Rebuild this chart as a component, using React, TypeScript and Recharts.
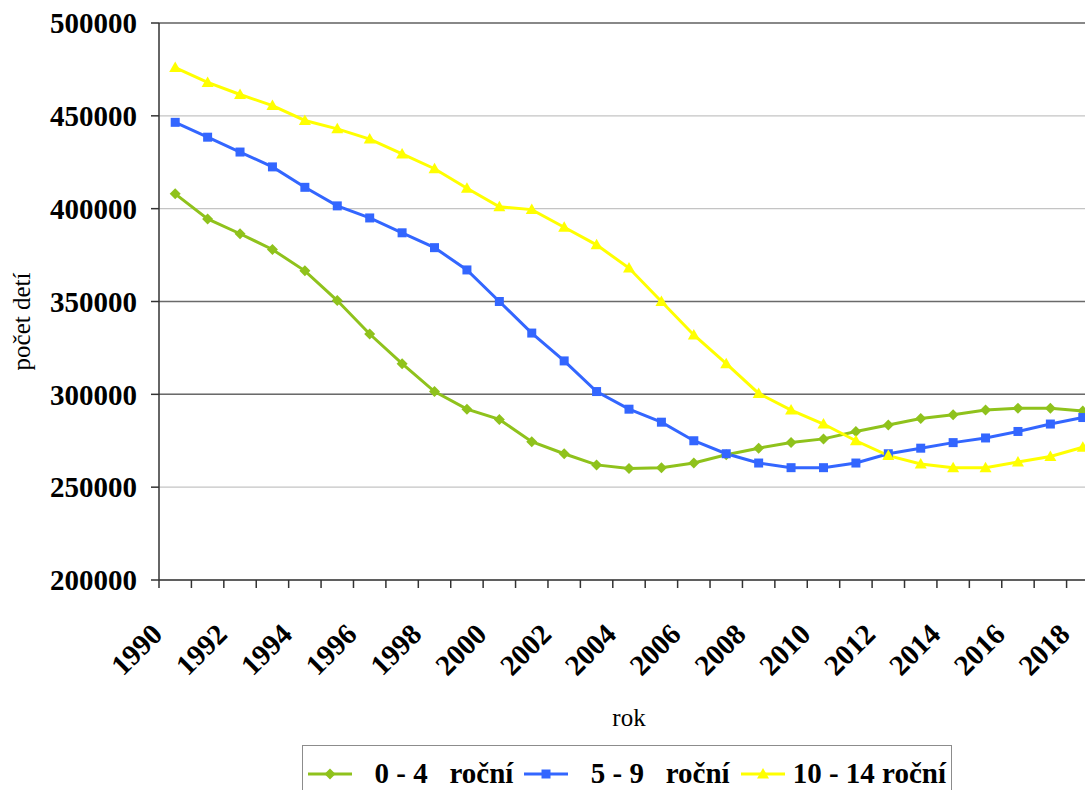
import { CartesianGrid, Legend, Line, LineChart, ReferenceLine, XAxis, YAxis } from "recharts";

const years = [
  1990, 1991, 1992, 1993, 1994, 1995, 1996, 1997, 1998, 1999, 2000, 2001, 2002, 2003, 2004,
  2005, 2006, 2007, 2008, 2009, 2010, 2011, 2012, 2013, 2014, 2015, 2016, 2017, 2018,
];
const age0to4 = [
  408000, 394500, 386500, 378000, 366500, 350500, 332500, 316500, 301500, 292000, 286500,
  274500, 268000, 262000, 260000, 260500, 263000, 267500, 271000, 274000, 276000, 280000,
  283500, 287000, 289000, 291500, 292500, 292500, 291000,
];
const age5to9 = [
  446500, 438500, 430500, 422500, 411500, 401500, 395000, 387000, 379000, 367000, 350000,
  333000, 318000, 301500, 292000, 285000, 275000, 268000, 263000, 260500, 260500, 263000,
  268000, 271000, 274000, 276500, 280000, 284000, 287500,
];
const age10to14 = [
  476000, 468000, 461500, 455500, 447500, 443000, 437500, 429500, 421500, 411000, 401000,
  399500, 390000, 380500, 368000, 350000, 332000, 316500, 300500, 291500, 284000, 275000,
  267000, 262500, 260500, 260500, 263500, 266500, 271500,
];
const xTickLabels = [
  "1990", "1992", "1994", "1996", "1998", "2000", "2002", "2004", "2006", "2008", "2010",
  "2012", "2014", "2016", "2018",
];
const yTicks = [200000, 250000, 300000, 350000, 400000, 450000, 500000];
const darkGridLines = [500000, 350000, 300000];

const series = [
  { key: "a", name: "  0 - 4   roční", color: "#8fc21c", shape: "diamond" },
  { key: "b", name: "  5 - 9   roční", color: "#3366ff", shape: "square" },
  { key: "c", name: "10 - 14 roční", color: "#ffff00", shape: "triangle" },
];

const data = years.map((year, i) => ({
  year,
  a: age0to4[i],
  b: age5to9[i],
  c: age10to14[i],
}));

// ticks sit on the band edges, like the category axis of the original
const xTicks = [...years.map((y) => y - 0.5), years[years.length - 1] + 0.5];

const FONT = "Liberation Serif, Times New Roman, serif";

function markerPath(shape: string, cx: number, cy: number) {
  if (shape === "square") {
    const s = 4.5;
    return `M${cx - s},${cy - s}h${2 * s}v${2 * s}h${-2 * s}Z`;
  }
  if (shape === "diamond") {
    const s = 5.5;
    return `M${cx},${cy - s}L${cx + s},${cy}L${cx},${cy + s}L${cx - s},${cy}Z`;
  }
  const s = 6;
  return `M${cx},${cy - s}L${cx + s},${cy + s * 0.75}L${cx - s},${cy + s * 0.75}Z`;
}

function makeDot(shape: string, color: string) {
  return (props: any) => {
    const { cx, cy, index } = props;
    if (cx == null || cy == null) return <g key={index} />;
    return <path key={index} d={markerPath(shape, cx, cy)} fill={color} stroke="none" />;
  };
}

function XTick(props: any) {
  const { x, y, payload } = props;
  const label = String(payload.value + 0.5);
  if (!xTickLabels.includes(label)) return <g />;
  return (
    <g transform={`translate(${x + 5},${y + 48})`}>
      <text
        textAnchor="end"
        transform="rotate(-45)"
        style={{ fontFamily: FONT, fontWeight: "bold", fontSize: 29 }}
        fill="#000"
      >
        {label}
      </text>
    </g>
  );
}

function LegendBox() {
  return (
    <div
      style={{
        border: "1px solid #8c8c8c",
        height: 74,
        boxSizing: "border-box",
        padding: "13px 0 0 5px",
        display: "flex",
        alignItems: "flex-start",
        fontFamily: FONT,
        fontWeight: "bold",
        fontSize: 29,
        lineHeight: "29px",
        color: "#000",
        background: "#fff",
      }}
    >
      {series.map((s) => (
        <div key={s.key} style={{ display: "flex", alignItems: "center", marginRight: 11, height: 29 }}>
          <svg width={44} height={14} style={{ marginRight: 8 }}>
            <line x1={0} y1={7} x2={44} y2={7} stroke={s.color} strokeWidth={3} />
            <path d={markerPath(s.shape, 22, 7)} fill={s.color} />
          </svg>
          <span style={{ whiteSpace: "pre" }}>{s.name}</span>
        </div>
      ))}
    </div>
  );
}

export default function App() {
  return (
    <div
      style={{
        position: "fixed",
        left: 0,
        top: 0,
        width: 1085,
        height: 790,
        overflow: "hidden",
        background: "#fff",
      }}
    >
      <LineChart width={1110} height={790} data={data} margin={{ top: 23, right: 11, bottom: 0, left: 0 }}>
        <CartesianGrid horizontal vertical={false} stroke="#c4c4c4" strokeWidth={1.2} />
        {darkGridLines.map((v) => (
          <ReferenceLine key={v} y={v} stroke="#6a6a6a" strokeWidth={1.5} />
        ))}
        <XAxis
          dataKey="year"
          type="number"
          domain={[years[0] - 0.5, years[years.length - 1] + 0.5]}
          ticks={xTicks}
          interval={0}
          height={210}
          tickSize={8}
          tickMargin={0}
          axisLine={{ stroke: "#333", strokeWidth: 1.5 }}
          tickLine={{ stroke: "#333", strokeWidth: 1.5 }}
          tick={<XTick />}
          label={{
            content: (p: any) => (
              <text
                x={p.viewBox.x + p.viewBox.width / 2}
                y={p.viewBox.y + 146}
                textAnchor="middle"
                style={{ fontFamily: FONT, fontSize: 25 }}
                fill="#000"
              >
                rok
              </text>
            ),
          }}
        />
        <YAxis
          domain={[200000, 500000]}
          ticks={yTicks}
          interval={0}
          width={159}
          tickSize={8}
          tickMargin={14}
          axisLine={{ stroke: "#333", strokeWidth: 1.5 }}
          tickLine={{ stroke: "#333", strokeWidth: 1.5 }}
          tick={{ fill: "#000", fontSize: 29, fontWeight: "bold", fontFamily: FONT }}
          label={{
            content: (p: any) => (
              <text
                transform={`translate(30,${p.viewBox.y + p.viewBox.height / 2 + 20}) rotate(-90)`}
                textAnchor="middle"
                style={{ fontFamily: FONT, fontSize: 25 }}
                fill="#000"
              >
                počet detí
              </text>
            ),
          }}
        />
        {series.map((s) => (
          <Line
            key={s.key}
            dataKey={s.key}
            name={s.name}
            type="linear"
            stroke={s.color}
            strokeWidth={3}
            dot={makeDot(s.shape, s.color)}
            activeDot={false}
            isAnimationActive={false}
          />
        ))}
        <Legend
          layout="vertical"
          align="center"
          verticalAlign="middle"
          wrapperStyle={{ left: 302, top: 745, width: 650, height: 74 }}
          content={() => <LegendBox />}
        />
      </LineChart>
    </div>
  );
}
